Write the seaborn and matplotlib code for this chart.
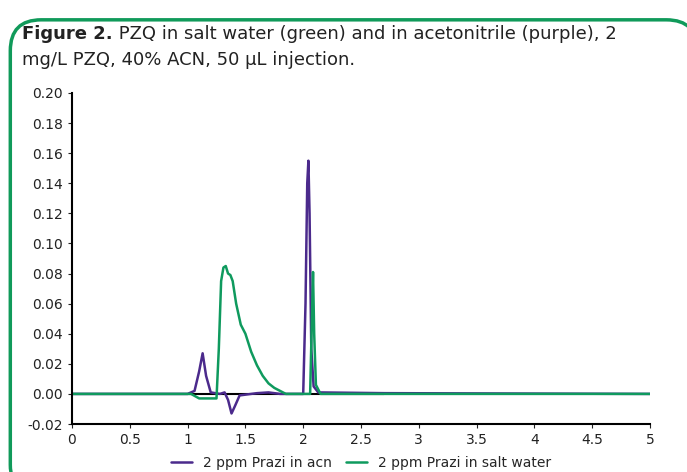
import numpy as np
import matplotlib.pyplot as plt
from matplotlib.patches import FancyBboxPatch
import seaborn as sns

# retention time (min) / absorbance
acn_t = [0, 1.0, 1.06, 1.1, 1.13, 1.16, 1.2, 1.28, 1.32, 1.35, 1.38, 1.41, 1.45, 1.6, 1.7, 1.8, 2.0,
         2.02, 2.035, 2.045, 2.055, 2.07, 2.09, 2.13, 2.7, 5]
acn_y = [0, 0, 0.002, 0.015, 0.027, 0.012, 0.001, 0.0, 0.001, -0.004, -0.013, -0.008, -0.001, 0.0005, 0.001, 0.0, 0.0,
         0.06, 0.14, 0.155, 0.12, 0.03, 0.005, 0.001, 0.0005, 0.0]
salt_t = [0, 1.03, 1.1, 1.25, 1.27, 1.29, 1.31, 1.33, 1.35, 1.37, 1.39, 1.42, 1.46, 1.5, 1.55, 1.6, 1.65,
          1.7, 1.75, 1.8, 1.85, 2.06, 2.075, 2.085, 2.095, 2.11, 2.15, 5]
salt_y = [0, 0, -0.003, -0.003, 0.03, 0.075, 0.084, 0.085, 0.08, 0.079, 0.075, 0.06, 0.046, 0.04, 0.028, 0.019, 0.012,
          0.007, 0.004, 0.002, 0.0, 0.0, 0.05, 0.081, 0.04, 0.006, 0.0, 0.0]

purple = "#4b2a8c"
green = "#0f9a5e"

sns.set_style("white")
plt.rcParams["font.family"] = ["Verdana", "DejaVu Sans"]

fig = plt.figure(figsize=(6.87, 4.72), dpi=100)
box = FancyBboxPatch((0.015, -0.05), 1.0, 1.008, boxstyle="round,pad=0,rounding_size=0.045",
                     transform=fig.transFigure, facecolor="white", edgecolor="#109a5a", linewidth=2.5,
                     mutation_aspect=687 / 472, zorder=-5)
fig.patches.append(box)
t1 = fig.text(0.032, 0.918, "Figure 2.", fontsize=13, fontweight="bold", color="#222222", va="baseline")
ax0 = fig.add_axes([0, 0, 1, 1], zorder=-1)
ax0.axis("off")
ax0.annotate(" PZQ in salt water (green) and in acetonitrile (purple), 2", xy=(1, 0), xycoords=t1,
             fontsize=13, color="#222222", va="bottom")
fig.text(0.032, 0.862, "mg/L PZQ, 40% ACN, 50 μL injection.", fontsize=13, color="#222222", va="baseline")

ax = fig.add_axes([72 / 687, 1 - 424 / 472, 578 / 687, 331 / 472])
ax.plot([0, 2.7], [0, 0], color="black", lw=1.5)
sns.lineplot(x=acn_t, y=acn_y, ax=ax, color=purple, lw=1.8, label="2 ppm Prazi in acn", sort=False)
sns.lineplot(x=salt_t, y=salt_y, ax=ax, color=green, lw=1.8, label="2 ppm Prazi in salt water", sort=False)
ax.set_xlim(0, 5)
ax.set_ylim(-0.02, 0.2)
ax.set_xticks(np.arange(0, 5.01, 0.5))
ax.set_xticklabels(["0", "0.5", "1", "1.5", "2", "2.5", "3", "3.5", "4", "4.5", "5"])
ax.set_yticks(np.arange(-0.02, 0.201, 0.02))
ax.set_yticklabels([f"{v:.2f}" for v in np.arange(-0.02, 0.201, 0.02)])
ax.tick_params(labelsize=10, length=3, direction="out", left=True, bottom=True, colors="#222222")
for s in ["top", "right"]:
    ax.spines[s].set_visible(False)
for s in ["left", "bottom"]:
    ax.spines[s].set_color("black")
    ax.spines[s].set_linewidth(1.5)
ax.patch.set_alpha(0)
ax.legend(loc="upper center", bbox_to_anchor=(0.5, -0.06), ncol=2, frameon=False, fontsize=10,
          handlelength=1.5, columnspacing=1.0)
fig.savefig("out.png", dpi=100)
